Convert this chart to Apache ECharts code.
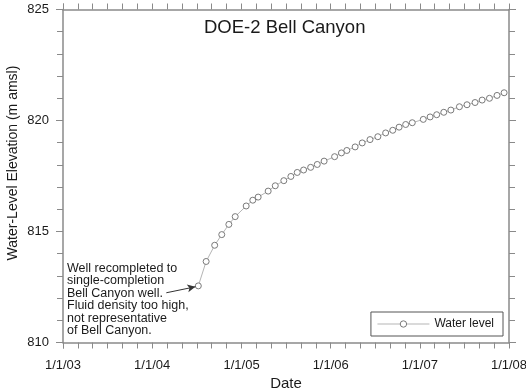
<!DOCTYPE html>
<html>
<head>
<meta charset="utf-8">
<script src="https://cdn.jsdelivr.net/npm/echarts@6/dist/echarts.min.js"></script>
<style>html,body{margin:0;padding:0;background:#fff;}#c{width:526px;height:388px;}</style>
</head>
<body>
<div id="c"></div>
<script>
const titleText = 'DOE-2 Bell Canyon';
const xAxisName = 'Date';
const yAxisName = 'Water-Level Elevation (m amsl)';
const seriesName = 'Water level';
const xMin = '2003-01-01';
const xMax = '2008-01-01';
const yMin = 810, yMax = 825, yInterval = 5;
const dates = ['2004-07-08','2004-08-09','2004-09-13','2004-10-12','2004-11-10','2004-12-06',
 '2005-01-20','2005-02-16','2005-03-10','2005-04-20','2005-05-19','2005-06-23','2005-07-22','2005-08-17',
 '2005-09-12','2005-10-11','2005-11-07','2005-12-05','2006-01-17','2006-02-14','2006-03-08','2006-04-11',
 '2006-05-10','2006-06-11','2006-07-13','2006-08-14','2006-09-12','2006-10-08','2006-11-04','2006-12-01',
 '2007-01-15','2007-02-12','2007-03-11','2007-04-09','2007-05-08','2007-06-12','2007-07-13','2007-08-15',
 '2007-09-13','2007-10-13','2007-11-13','2007-12-12'];
const levels = [812.55,813.65,814.38,814.86,815.32,815.67,816.15,816.41,816.55,816.82,817.06,817.29,817.48,817.66,
 817.77,817.89,818.02,818.17,818.37,818.54,818.65,818.81,818.99,819.14,819.27,819.44,819.56,819.70,819.82,819.90,
 820.05,820.16,820.26,820.37,820.47,820.62,820.71,820.81,820.92,821.00,821.13,821.25];
const noteLines = ['Well recompleted to','single-completion','Bell Canyon well.','Fluid density too high,','not representative','of Bell Canyon.'];
const arrowFrom = ['2004-02-28', 812.24];
const arrowTo = ['2004-06-26', 812.51];

const axisColor = '#8a8a8a';
const textColor = '#1a1a1a';
const font = 'Arial, "Liberation Sans", sans-serif';

function fmtDate(v){ const d = new Date(v); return (d.getMonth()+1)+'/'+d.getDate()+'/'+String(d.getFullYear()).slice(2); }

const chart = echarts.init(document.getElementById('c'));
const commonX = {
  type:'time', min:xMin, max:xMax,
  minInterval: 365*86400000, maxInterval: 366*86400000,
  axisLine:{show:true, lineStyle:{color:axisColor, width:1.5}},
  axisTick:{show:true, inside:false, length:6, lineStyle:{color:axisColor, width:1}},
  minorTick:{show:true, splitNumber:6, length:6, lineStyle:{color:axisColor, width:1}},
  splitLine:{show:false}
};
const commonY = {
  type:'value', min:yMin, max:yMax, interval:yInterval,
  axisLine:{show:true, lineStyle:{color:axisColor, width:1.5}},
  axisTick:{show:true, inside:false, length:7, lineStyle:{color:axisColor, width:1}},
  minorTick:{show:true, splitNumber:5, length:6, lineStyle:{color:axisColor, width:1}},
  splitLine:{show:false}
};
chart.setOption({
  animation:false,
  backgroundColor:'#fff',
  textStyle:{fontFamily:font},
  title:{text:titleText, left:199, top:13,
    textStyle:{fontSize:18.5, fontWeight:'normal', color:textColor, fontFamily:font}},
  grid:{left:63, right:17, top:9.5, bottom:45.5, containLabel:false, outerBoundsMode:'none'},
  legend:{
    right:23, top:312, orient:'horizontal',
    data:[seriesName],
    itemWidth:52, itemHeight:8, itemGap:5,
    padding:[6,9,6,6],
    borderColor:'#555', borderWidth:1, backgroundColor:'#fff',
    itemStyle:{color:'#ffffff', borderColor:'#7a7a7a', borderWidth:1},
    lineStyle:{color:'#b5b5b5', width:1},
    textStyle:{fontSize:12, color:textColor, fontFamily:font}
  },
  xAxis:[
    Object.assign({}, commonX, {position:'bottom',
      name:xAxisName, nameLocation:'middle', nameGap:28,
      nameTextStyle:{fontSize:15, color:textColor, fontFamily:font},
      axisLabel:{show:true, color:textColor, fontSize:13, margin:16, formatter:fmtDate, fontFamily:font, showMinLabel:true, showMaxLabel:true}
    }),
    Object.assign({}, commonX, {position:'top', axisLabel:{show:false}})
  ],
  yAxis:[
    Object.assign({}, commonY, {position:'left',
      axisLabel:{show:true, color:textColor, fontSize:13, margin:14, fontFamily:font}
    }),
    Object.assign({}, commonY, {position:'right', axisLabel:{show:false}})
  ],
  series:[{
    name:seriesName, type:'line', xAxisIndex:0, yAxisIndex:0,
    data: dates.map((d,i)=>[d, levels[i]]),
    symbol:'circle', symbolSize:6,
    lineStyle:{color:'#b5b5b5', width:1},
    itemStyle:{color:'#ffffff', borderColor:'#7a7a7a', borderWidth:1},
    markLine:{
      silent:true, symbol:['none','arrow'], symbolSize:[6,8],
      lineStyle:{color:'#333', width:1, type:'solid'},
      label:{show:false},
      data:[[{coord:arrowFrom},{coord:arrowTo}]]
    }
  }],
  graphic:[{
    type:'text', left:67, top:262,
    style:{text:noteLines.join('\n'), font:'12.5px '+font, fill:textColor, lineHeight:12.5}
  },{
    type:'text', x:13, y:163, rotation:Math.PI/2,
    style:{text:yAxisName, font:'14px '+font, fill:textColor, align:'center', verticalAlign:'middle'}
  }]
});
</script>
</body>
</html>
